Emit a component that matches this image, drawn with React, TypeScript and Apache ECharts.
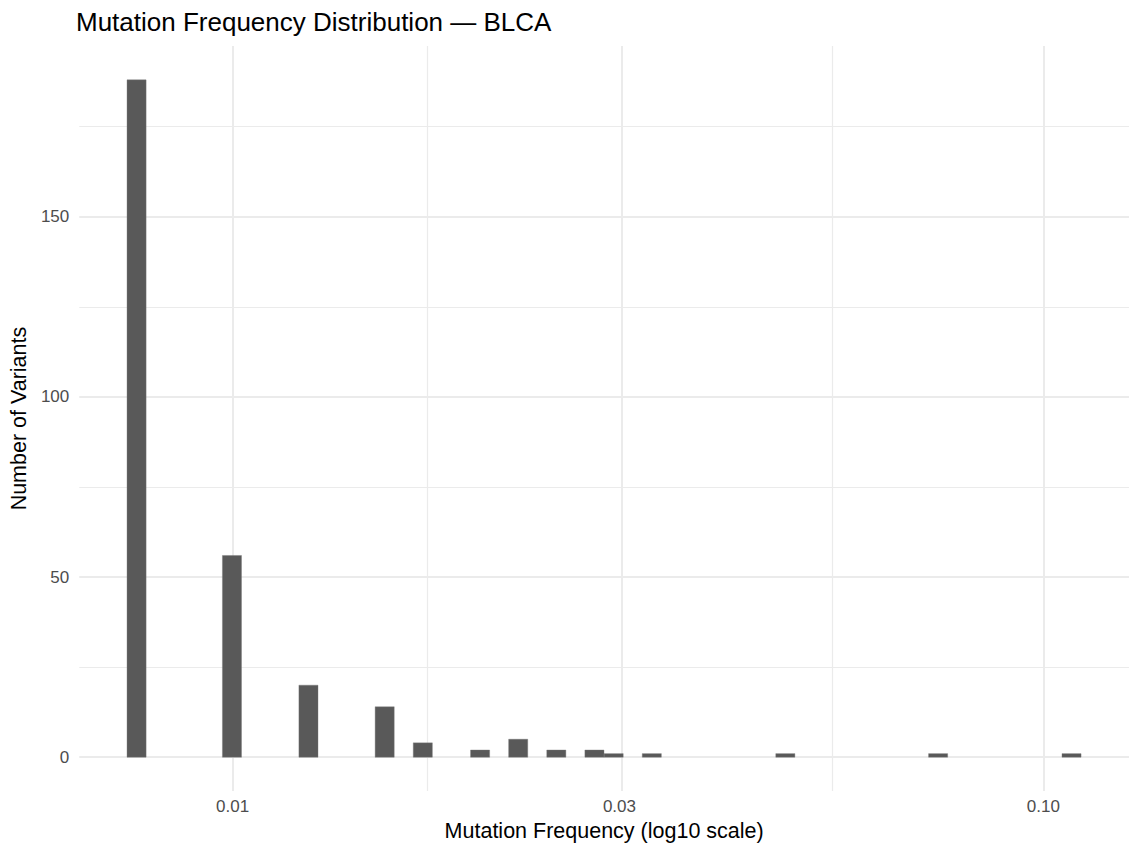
import React, { useEffect, useRef } from "react";
import * as echarts from "echarts";

// Histogram bins (bin centre as mutation frequency, count of variants)
const binCenters = [0.007614, 0.009983, 0.012405, 0.015403, 0.017164, 0.020196, 0.022504, 0.025077, 0.027944, 0.029512, 0.032888, 0.048053, 0.074155, 0.10831];
const binCounts = [188, 56, 20, 14, 4, 2, 5, 2, 2, 1, 1, 1, 1, 1];
const binWidthLog = 0.023538; // bin width in log10 units

const xTickFreqs = [0.01, 0.03, 0.1];
const xTickLabels = ["0.01", "0.03", "0.10"];
const xMinorFreqs = [0.01732, 0.05477];
const yTicks = [0, 50, 100, 150];
const yMinorTicks = [25, 75, 125, 175];
const xRangeLog = [-2.18906, -0.89445];
const yRange = [-9.4, 197.4];

const FONT = "Liberation Sans, Arial, sans-serif";

export default function App() {
  const ref = useRef<HTMLDivElement>(null);
  useEffect(() => {
    if (!ref.current) return;
    const chart = echarts.init(ref.current, null, { renderer: "svg" });
    const barData = binCenters.map((f, i) => {
      const c = Math.log10(f);
      return [c - binWidthLog / 2, c + binWidthLog / 2, binCounts[i]];
    });
    const xMajorLog = xTickFreqs.map((f) => Math.log10(f));
    const gridLines: any[] = [
      ...yMinorTicks.map((v) => ({ yAxis: v, lineStyle: { color: "#EBEBEB", width: 1.2, type: "solid" } })),
      ...xMinorFreqs.map((f) => ({ xAxis: Math.log10(f), lineStyle: { color: "#EBEBEB", width: 1.2, type: "solid" } })),
      ...yTicks.map((v) => ({ yAxis: v, lineStyle: { color: "#EBEBEB", width: 2, type: "solid" } })),
      ...xMajorLog.map((v) => ({ xAxis: v, lineStyle: { color: "#EBEBEB", width: 2, type: "solid" } })),
    ];
    chart.setOption({
      animation: false,
      backgroundColor: "#FFFFFF",
      textStyle: { fontFamily: FONT },
      title: {
        text: "Mutation Frequency Distribution — BLCA",
        left: 71,
        top: 4,
        textStyle: { fontSize: 26, fontWeight: "normal", color: "#000000", fontFamily: FONT },
      },
      grid: { left: 75, right: 0, top: 46, bottom: 53 },
      xAxis: {
        type: "value",
        min: xRangeLog[0],
        max: xRangeLog[1],
        name: "Mutation Frequency (log10 scale)",
        nameLocation: "middle",
        nameGap: 26,
        nameTextStyle: { fontSize: 21.5, color: "#000000", fontFamily: FONT },
        axisLine: { show: false },
        axisTick: { show: false },
        splitLine: { show: false },
        axisLabel: {
          customValues: xMajorLog,
          margin: 7,
          fontSize: 17,
          color: "#4D4D4D",
          fontFamily: FONT,
          formatter: (v: number) => {
            let best = 0;
            xMajorLog.forEach((t, i) => {
              if (Math.abs(t - v) < Math.abs(xMajorLog[best] - v)) best = i;
            });
            return xTickLabels[best];
          },
        },
      },
      yAxis: {
        type: "value",
        min: yRange[0],
        max: yRange[1],
        name: "Number of Variants",
        nameLocation: "middle",
        nameGap: 45,
        nameTextStyle: { fontSize: 21.5, color: "#000000", fontFamily: FONT },
        axisLine: { show: false },
        axisTick: { show: false },
        splitLine: { show: false },
        axisLabel: {
          customValues: yTicks,
          margin: 10,
          fontSize: 17,
          color: "#4D4D4D",
          fontFamily: FONT,
        },
      },
      series: [
        {
          type: "line",
          data: [],
          silent: true,
          z: 1,
          markLine: {
            silent: true,
            z: 1,
            symbol: ["none", "none"],
            label: { show: false },
            emphasis: { disabled: true },
            data: gridLines,
          },
        },
        {
          type: "custom",
          z: 10,
          silent: true,
          encode: { x: [0, 1], y: 2 },
          data: barData,
          renderItem: (params: any, api: any) => {
            const p0 = api.coord([api.value(0), api.value(2)]);
            const p1 = api.coord([api.value(1), 0]);
            return {
              type: "rect",
              shape: { x: p0[0], y: p0[1], width: p1[0] - p0[0], height: p1[1] - p0[1] },
              style: { fill: "#595959", stroke: "#7a7a7a", lineWidth: 0.4 },
            };
          },
        },
      ],
    });
    return () => chart.dispose();
  }, []);
  return (
    <div
      ref={ref}
      style={{ position: "fixed", left: 0, top: 0, width: 1129, height: 847, background: "#fff" }}
    />
  );
}
